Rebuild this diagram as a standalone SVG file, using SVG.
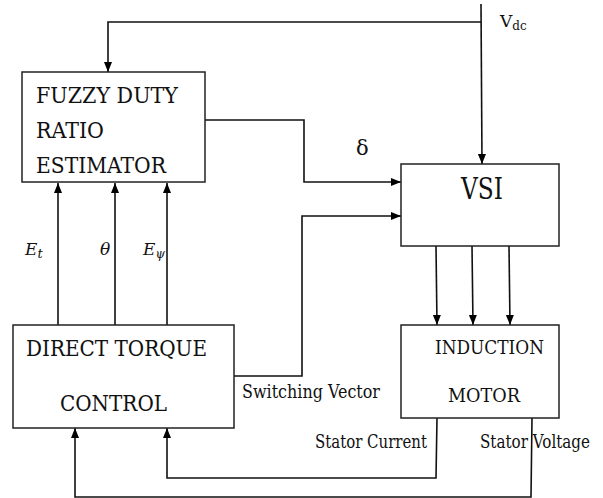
<svg xmlns="http://www.w3.org/2000/svg" width="603" height="498" viewBox="0 0 603 498">
<defs>
<marker id="ah" markerWidth="10" markerHeight="10" viewBox="0 0 10 10" refX="10" refY="5" orient="auto" markerUnits="userSpaceOnUse">
<path d="M0,1 L10,5 L0,9 Z" fill="#000"/>
</marker>
<style>
.box{fill:#fff;stroke:#222;stroke-width:1.5}
.c{fill:none;stroke:#111;stroke-width:1.6}
</style>
</defs>
<rect width="603" height="498" fill="#fff"/>
<g id="connectors">
<path class="c" d="M481,4 L482,164" marker-end="url(#ah)"/>
<path class="c" d="M481,22 L108,22 L108,72" marker-end="url(#ah)"/>
<path class="c" d="M205,120 L304,120 L304,182 L401,182" marker-end="url(#ah)"/>
<path class="c" d="M234,376 L302,376 L302,216 L401,216" marker-end="url(#ah)"/>
<path class="c" d="M58,325 L58,183" marker-end="url(#ah)"/>
<path class="c" d="M115,325 L115,183" marker-end="url(#ah)"/>
<path class="c" d="M167,325 L167,183" marker-end="url(#ah)"/>
<path class="c" d="M436,246 L437,325" marker-end="url(#ah)"/>
<path class="c" d="M472,246 L473,325" marker-end="url(#ah)"/>
<path class="c" d="M509,246 L510,325" marker-end="url(#ah)"/>
<path class="c" d="M437,418 L436,478 L167,478 L167,428" marker-end="url(#ah)"/>
<path class="c" d="M532,418 L531,497 L75,497 L75,428" marker-end="url(#ah)"/>
</g>
<g font-family="DejaVu Serif" fill="#111">
<g id="fuzzy">
<rect class="box" x="22" y="72" width="183" height="110"/>
<text x="36" y="103" font-size="22" textLength="142" lengthAdjust="spacingAndGlyphs">FUZZY DUTY</text>
<text x="36" y="138" font-size="22" textLength="68" lengthAdjust="spacingAndGlyphs">RATIO</text>
<text x="36" y="173" font-size="22" textLength="130" lengthAdjust="spacingAndGlyphs">ESTIMATOR</text>
</g>
<g id="vsi">
<rect class="box" x="401" y="164" width="158" height="82"/>
<text x="461" y="199" font-size="29" textLength="42" lengthAdjust="spacingAndGlyphs">VSI</text>
</g>
<g id="dtc">
<rect class="box" x="13" y="325" width="221" height="103"/>
<text x="26" y="356" font-size="22" textLength="181" lengthAdjust="spacingAndGlyphs">DIRECT TORQUE</text>
<text x="60" y="411" font-size="22" textLength="107" lengthAdjust="spacingAndGlyphs">CONTROL</text>
</g>
<g id="motor">
<rect class="box" x="401" y="325" width="158" height="93"/>
<text x="435" y="354" font-size="19" textLength="109" lengthAdjust="spacingAndGlyphs">INDUCTION</text>
<text x="448" y="402" font-size="19" textLength="72" lengthAdjust="spacingAndGlyphs">MOTOR</text>
</g>
<g id="labels">
<text x="500" y="27" font-size="17">V<tspan font-size="12" dy="3">dc</tspan></text>
<text x="356" y="155" font-size="21">δ</text>
<text x="242" y="398" font-size="18" textLength="138" lengthAdjust="spacingAndGlyphs">Switching Vector</text>
<text x="315" y="448" font-size="18" textLength="112" lengthAdjust="spacingAndGlyphs">Stator Current</text>
<text x="480" y="448" font-size="18" textLength="110" lengthAdjust="spacingAndGlyphs">Stator Voltage</text>
</g>
<g id="math-labels" font-style="italic">
<text x="25" y="255" font-size="17">E<tspan font-size="13" dy="3">t</tspan></text>
<text x="100" y="255" font-size="17">θ</text>
<text x="143" y="255" font-size="17">E<tspan font-size="12" dy="3">ψ</tspan></text>
</g>
</g>
</svg>
